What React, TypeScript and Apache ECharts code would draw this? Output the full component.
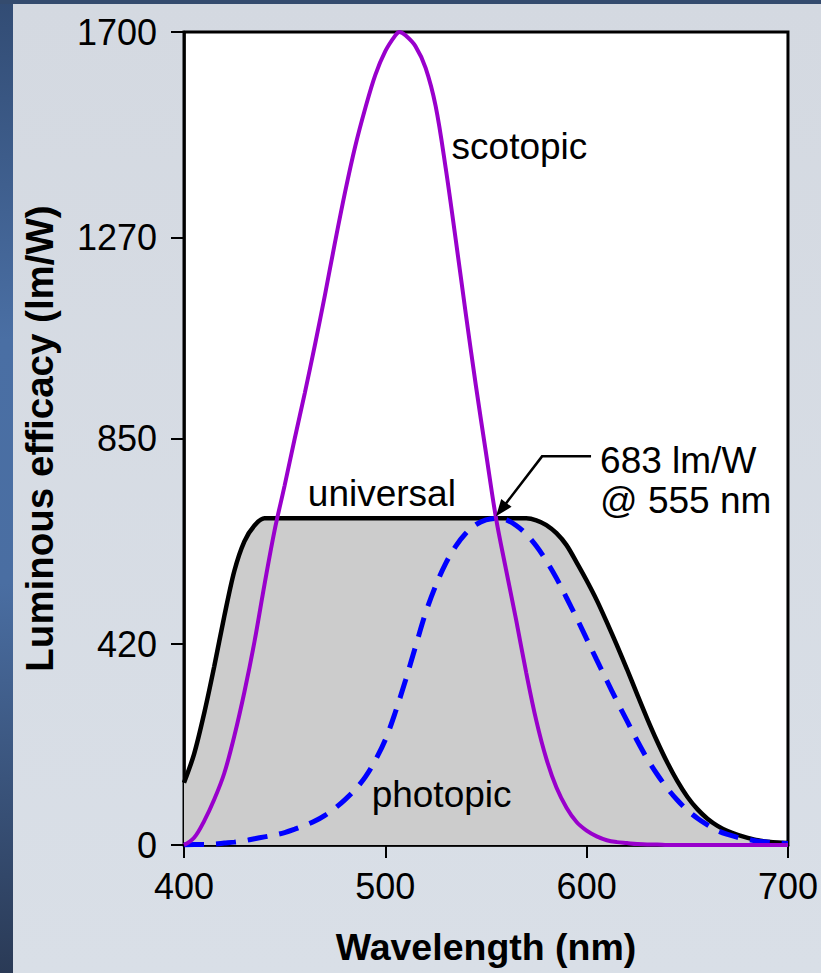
import React, { useEffect, useRef } from "react";
import * as echarts from "echarts";

// Luminous efficacy curves (lm/W) against wavelength (nm)
const universalNm = [400, 405, 410, 415, 420, 425, 430, 435, 440, 570, 575, 580, 585, 590, 595, 600, 605, 610, 615, 620, 625, 630, 635, 640, 645, 650, 655, 660, 665, 670, 675, 680, 685, 690, 695, 700];
const universalLmW = [130, 190, 275, 373, 478, 573, 635, 668, 683, 683, 679, 669, 652, 627, 591, 553, 512, 466, 418, 368, 316, 265, 217, 173, 134, 101, 75, 55, 40, 29, 21, 15, 10, 7, 5, 4];

const photopicNm = [400, 405, 410, 415, 420, 425, 430, 435, 440, 445, 450, 455, 460, 465, 470, 475, 480, 485, 490, 495, 500, 505, 510, 515, 520, 525, 530, 535, 540, 545, 550, 555, 560, 565, 570, 575, 580, 585, 590, 595, 600, 605, 610, 615, 620, 625, 630, 635, 640, 645, 650, 655, 660, 665, 670, 675, 680, 685, 690, 695, 700];
const photopicLmW = [0, 1, 1, 2, 4, 6, 9, 13, 17, 21, 26, 33, 41, 50, 62, 77, 95, 116, 142, 177, 220, 278, 344, 415, 485, 542, 589, 625, 652, 670, 680, 683, 680, 668, 650, 625, 594, 558, 517, 475, 431, 387, 344, 301, 260, 219, 181, 148, 119, 94, 73, 56, 42, 30, 22, 16, 12, 8, 6, 4, 3];

const scotopicNm = [400, 405, 410, 415, 420, 425, 430, 435, 440, 445, 450, 455, 460, 465, 470, 475, 480, 485, 490, 495, 500, 505, 507, 510, 515, 520, 525, 530, 535, 540, 545, 550, 555, 560, 565, 570, 575, 580, 585, 590, 595, 600, 605, 610, 615, 620, 625, 630, 635, 640, 650, 660, 670, 680, 690, 700];
const scotopicLmW = [0, 15, 50, 95, 150, 228, 320, 425, 545, 658, 752, 850, 945, 1045, 1150, 1260, 1365, 1460, 1540, 1610, 1660, 1693, 1700, 1693, 1670, 1625, 1545, 1415, 1265, 1110, 960, 820, 683, 575, 470, 360, 260, 180, 120, 78, 48, 30, 18, 10, 6, 4, 2, 1, 1, 0, 0, 0, 0, 0, 0, 0];

const yTicks = [0, 420, 850, 1270, 1700];
const xTicks = [400, 500, 600, 700];

// Curve labels: text, wavelength, efficacy (left-middle anchor)
const curveLabels = ["scotopic", "universal", "photopic"];
const curveLabelNm = [532.9, 461.5, 493.2];
const curveLabelLmW = [1460, 736, 105];

// Peak of the photopic curve, pointed at by the callout
const peakNm = 555;
const peakLmW = 683;

const FONT = "'Liberation Sans', Arial, Helvetica, sans-serif";

const pairs = (xs: number[], ys: number[]) => xs.map((x, i) => [x, ys[i]]);

export default function App() {
  const ref = useRef<HTMLDivElement>(null);

  useEffect(() => {
    const el = ref.current;
    if (!el) return;
    const chart = echarts.init(el, undefined, { renderer: "svg" });

    chart.setOption({
      animation: false,
      backgroundColor: "#d7dce4",
      grid: {
        left: 184,
        top: 32,
        right: 32,
        bottom: 128,
        show: true,
        backgroundColor: "#ffffff",
        borderColor: "#000000",
        borderWidth: 3,
      },
      xAxis: {
        type: "value",
        min: 400,
        max: 700,
        interval: 100,
        axisLine: { show: true, onZero: false, lineStyle: { color: "#000", width: 2.5 } },
        axisTick: { show: true, length: 13, lineStyle: { color: "#000", width: 2 }, customValues: xTicks },
        axisLabel: { customValues: xTicks, fontSize: 36, color: "#000", margin: 23, fontFamily: FONT, formatter: (v: number) => String(v) },
        splitLine: { show: false },
        name: "Wavelength (nm)",
        nameLocation: "middle",
        nameGap: 83,
        nameTextStyle: { fontSize: 37.5, fontWeight: "bold", color: "#000", fontFamily: FONT },
      },
      yAxis: {
        type: "value",
        min: 0,
        max: 1700,
        axisLine: { show: true, lineStyle: { color: "#000", width: 2.5 } },
        axisTick: { show: true, length: 13, lineStyle: { color: "#000", width: 2 }, customValues: yTicks },
        axisLabel: { customValues: yTicks, fontSize: 36, color: "#000", margin: 27, fontFamily: FONT, formatter: (v: number) => String(v) },
        splitLine: { show: false },
        name: "Luminous efficacy (lm/W)",
        nameLocation: "middle",
        nameGap: 125,
        nameTextStyle: { fontSize: 38.5, fontWeight: "bold", color: "#000", fontFamily: FONT },
      },
      series: [
        {
          name: "universal",
          type: "line",
          data: pairs(universalNm, universalLmW),
          smooth: 0.3,
          showSymbol: false,
          symbol: "none",
          lineStyle: { color: "#000000", width: 4.5 },
          areaStyle: { color: "#cccccc", opacity: 1 },
          z: 2,
        },
        {
          name: "photopic",
          type: "line",
          data: pairs(photopicNm, photopicLmW),
          smooth: 0.35,
          showSymbol: false,
          symbol: "none",
          lineStyle: { color: "#0000ff", width: 5, type: [20, 12], cap: "butt" },
          z: 3,
        },
        {
          name: "scotopic",
          type: "line",
          data: pairs(scotopicNm, scotopicLmW),
          smooth: 0.35,
          showSymbol: false,
          symbol: "none",
          lineStyle: { color: "#9900cc", width: 4 },
          z: 4,
        },
      ],
    });

    const px = (nm: number, v: number) => chart.convertToPixel({ gridIndex: 0 }, [nm, v]) as number[];

    const labelEls = curveLabels.map((t, i) => {
      const p = px(curveLabelNm[i], curveLabelLmW[i]);
      return {
        type: "text",
        x: p[0],
        y: p[1],
        z: 100,
        style: { text: t, fontSize: 37, fontFamily: FONT, fill: "#000", align: "left", verticalAlign: "middle" },
      };
    });

    // Callout arrow pointing at the photopic peak
    const tip = px(peakNm, peakLmW);
    const tx = tip[0];
    const ty = tip[1] - 2;
    const elbow = [tx + 46, ty - 60];
    const dx = tx - elbow[0];
    const dy = ty - elbow[1];
    const len = Math.hypot(dx, dy);
    const ux = dx / len;
    const uy = dy / len;
    const headLen = 17;
    const headHalf = 6.5;
    const bx = tx - ux * headLen;
    const by = ty - uy * headLen;

    const calloutEls = [
      {
        type: "polyline",
        z: 100,
        shape: { points: [[tx + 95, ty - 60], elbow, [bx + ux * 2, by + uy * 2]] },
        style: { stroke: "#000", lineWidth: 2.5, fill: null },
      },
      {
        type: "polygon",
        z: 100,
        shape: {
          points: [
            [tx, ty],
            [bx - uy * headHalf, by + ux * headHalf],
            [bx + uy * headHalf, by - ux * headHalf],
          ],
        },
        style: { fill: "#000" },
      },
      {
        type: "text",
        x: tx + 104,
        y: ty - 56,
        z: 100,
        style: { text: `${peakLmW} lm/W`, fontSize: 37, fontFamily: FONT, fill: "#000", align: "left", verticalAlign: "middle" },
      },
      {
        type: "text",
        x: tx + 104,
        y: ty - 16,
        z: 100,
        style: { text: `@ ${peakNm} nm`, fontSize: 37, fontFamily: FONT, fill: "#000", align: "left", verticalAlign: "middle" },
      },
    ];

    const frameEls = [
      {
        type: "rect",
        z: -100,
        shape: { x: 0, y: 0, width: 821, height: 973 },
        style: {
          fill: new echarts.graphic.LinearGradient(0, 0, 0, 1, [
            { offset: 0, color: "#d4d9e1" },
            { offset: 1, color: "#d9dfe7" },
          ]),
        },
      },
      {
        type: "rect",
        z: -99,
        shape: { x: 0, y: 0, width: 13, height: 973 },
        style: {
          fill: new echarts.graphic.LinearGradient(0, 0, 0, 1, [
            { offset: 0, color: "#324c74" },
            { offset: 0.35, color: "#4a6fa4" },
            { offset: 0.6, color: "#4a6ea2" },
            { offset: 1, color: "#2a3a56" },
          ]),
        },
      },
      {
        type: "rect",
        z: -99,
        shape: { x: 0, y: 0, width: 821, height: 4 },
        style: { fill: "#344b6e" },
      },
    ];

    chart.setOption({ graphic: [...frameEls, ...labelEls, ...calloutEls] });

    return () => chart.dispose();
  }, []);

  return <div ref={ref} style={{ position: "absolute", left: 0, top: 0, width: 821, height: 973 }} />;
}
